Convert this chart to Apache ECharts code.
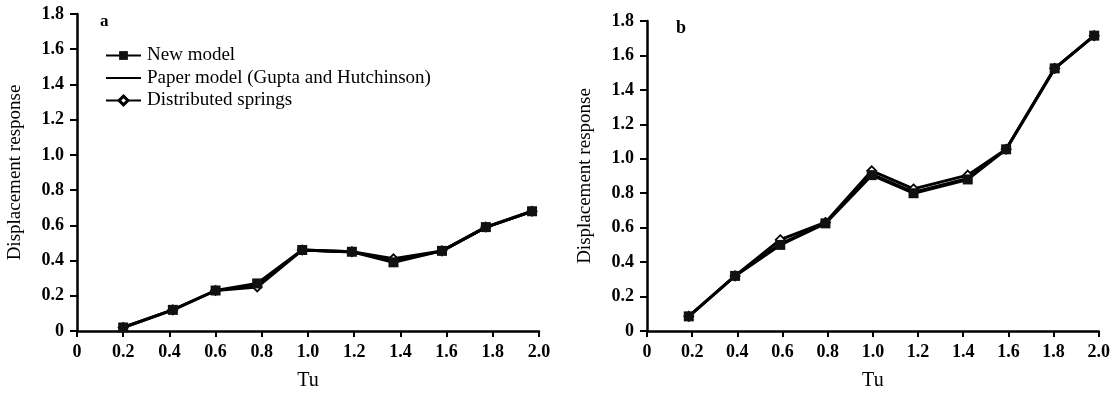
<!DOCTYPE html>
<html>
<head>
<meta charset="utf-8">
<script src="https://cdn.jsdelivr.net/npm/echarts@6/dist/echarts.min.js"></script>
<style>
html,body{margin:0;padding:0;background:#fff;}
#chart{width:1113px;height:396px;}
</style>
</head>
<body>
<div id="chart"></div>
<script>
// ---- data ----
var seriesNames = ['New model', 'Paper model (Gupta and Hutchinson)', 'Distributed springs'];
var xTicks = ['0', '0.2', '0.4', '0.6', '0.8', '1.0', '1.2', '1.4', '1.6', '1.8', '2.0'];
var yTicks = ['0', '0.2', '0.4', '0.6', '0.8', '1.0', '1.2', '1.4', '1.6', '1.8'];

var aTu      = [0.20, 0.415, 0.60, 0.78, 0.975, 1.19, 1.37, 1.58, 1.77, 1.97];
var aNew     = [0.02, 0.12, 0.23, 0.27, 0.46, 0.45, 0.39, 0.455, 0.59, 0.68];
var aPaper   = [0.02, 0.12, 0.225, 0.265, 0.455, 0.445, 0.40, 0.45, 0.585, 0.675];
var aSprings = [0.02, 0.12, 0.23, 0.25, 0.46, 0.45, 0.41, 0.455, 0.59, 0.68];

var bTu      = [0.185, 0.39, 0.59, 0.79, 0.995, 1.18, 1.42, 1.59, 1.805, 1.98];
var bNew     = [0.085, 0.32, 0.50, 0.625, 0.905, 0.80, 0.88, 1.055, 1.525, 1.715];
var bPaper   = [0.085, 0.32, 0.51, 0.63, 0.915, 0.81, 0.89, 1.055, 1.52, 1.71];
var bSprings = [0.085, 0.32, 0.53, 0.63, 0.93, 0.825, 0.905, 1.055, 1.525, 1.715];

function pairs(xs, ys){ return xs.map(function(x,i){ return [x, ys[i]]; }); }

var FONT = 'Liberation Serif';
function fmtX(v){ var i = Math.round(v/0.2); return xTicks[i] !== undefined ? xTicks[i] : ''; }
function fmtY(v){ var i = Math.round(v/0.2); return yTicks[i] !== undefined ? yTicks[i] : ''; }

function xAxis(gi){
  return {
    type:'value', gridIndex:gi, min:0, max:2, interval:0.2,
    name:'Tu', nameLocation:'middle', nameGap:40,
    nameTextStyle:{fontFamily:FONT, fontSize:20, color:'#000'},
    axisLine:{show:true, onZero:false, lineStyle:{color:'#000', width:2.5}},
    axisTick:{show:true, length:6, lineStyle:{color:'#000', width:2}},
    axisLabel:{fontFamily:FONT, fontSize:18, fontWeight:'bold', color:'#000', margin:12, formatter:fmtX},
    splitLine:{show:false}
  };
}
function yAxis(gi){
  return {
    type:'value', gridIndex:gi, min:0, max:1.8, interval:0.2,
    name:'Displacement response', nameLocation:'middle', nameGap:52,
    nameTextStyle:{fontFamily:FONT, fontSize:19, color:'#000'},
    axisLine:{show:true, onZero:false, lineStyle:{color:'#000', width:2.5}},
    axisTick:{show:true, length:7, lineStyle:{color:'#000', width:2}},
    axisLabel:{fontFamily:FONT, fontSize:18, fontWeight:'bold', color:'#000', margin:13, formatter:fmtY},
    splitLine:{show:false}
  };
}
function mk(gi, name, xs, ys, kind){
  var s = {
    name:name, type:'line', xAxisIndex:gi, yAxisIndex:gi,
    data:pairs(xs, ys), animation:false, silent:true
  };
  if(kind === 'new'){
    s.symbol = 'rect'; s.symbolSize = 10; s.z = 4;
    s.lineStyle = {color:'#000', width:3};
    s.itemStyle = {color:'#111', borderColor:'#000', borderWidth:0};
  } else if(kind === 'paper'){
    s.symbol = 'none'; s.z = 3;
    s.lineStyle = {color:'#000', width:1.5};
    s.itemStyle = {color:'#000'};
  } else {
    s.symbol = 'diamond'; s.symbolSize = 9; s.z = 2;
    s.lineStyle = {color:'#000', width:3};
    s.itemStyle = {color:'#fff', borderColor:'#000', borderWidth:1.8};
  }
  return s;
}

var chart = echarts.init(document.getElementById('chart'));
chart.setOption({
  backgroundColor:'#fff',
  animation:false,
  title:[
    {text:'a', left:95, top:8, textStyle:{fontFamily:FONT, fontSize:17, fontWeight:'bold', color:'#000'}},
    {text:'b', left:671, top:14, textStyle:{fontFamily:FONT, fontSize:18, fontWeight:'bold', color:'#000'}}
  ],
  legend:{
    show:true, orient:'vertical', left:100, top:41,
    itemWidth:35, itemHeight:11, itemGap:3.5,
    data:[
      {name:seriesNames[0]},
      {name:seriesNames[1], itemStyle:{opacity:0}},
      {name:seriesNames[2], itemStyle:{color:'#fff', borderColor:'#000', borderWidth:3}}
    ],
    textStyle:{fontFamily:FONT, fontSize:19, color:'#000', padding:[0,0,0,1]},
    selectedMode:false
  },
  grid:[
    {left:77, top:14, width:462, height:320},
    {left:647, top:21, width:454, height:312}
  ],
  xAxis:[xAxis(0), xAxis(1)],
  yAxis:[yAxis(0), yAxis(1)],
  series:[
    mk(0, seriesNames[0], aTu, aNew, 'new'),
    mk(0, seriesNames[1], aTu, aPaper, 'paper'),
    mk(0, seriesNames[2], aTu, aSprings, 'springs'),
    mk(1, seriesNames[0], bTu, bNew, 'new'),
    mk(1, seriesNames[1], bTu, bPaper, 'paper'),
    mk(1, seriesNames[2], bTu, bSprings, 'springs')
  ]
});
</script>
</body>
</html>
